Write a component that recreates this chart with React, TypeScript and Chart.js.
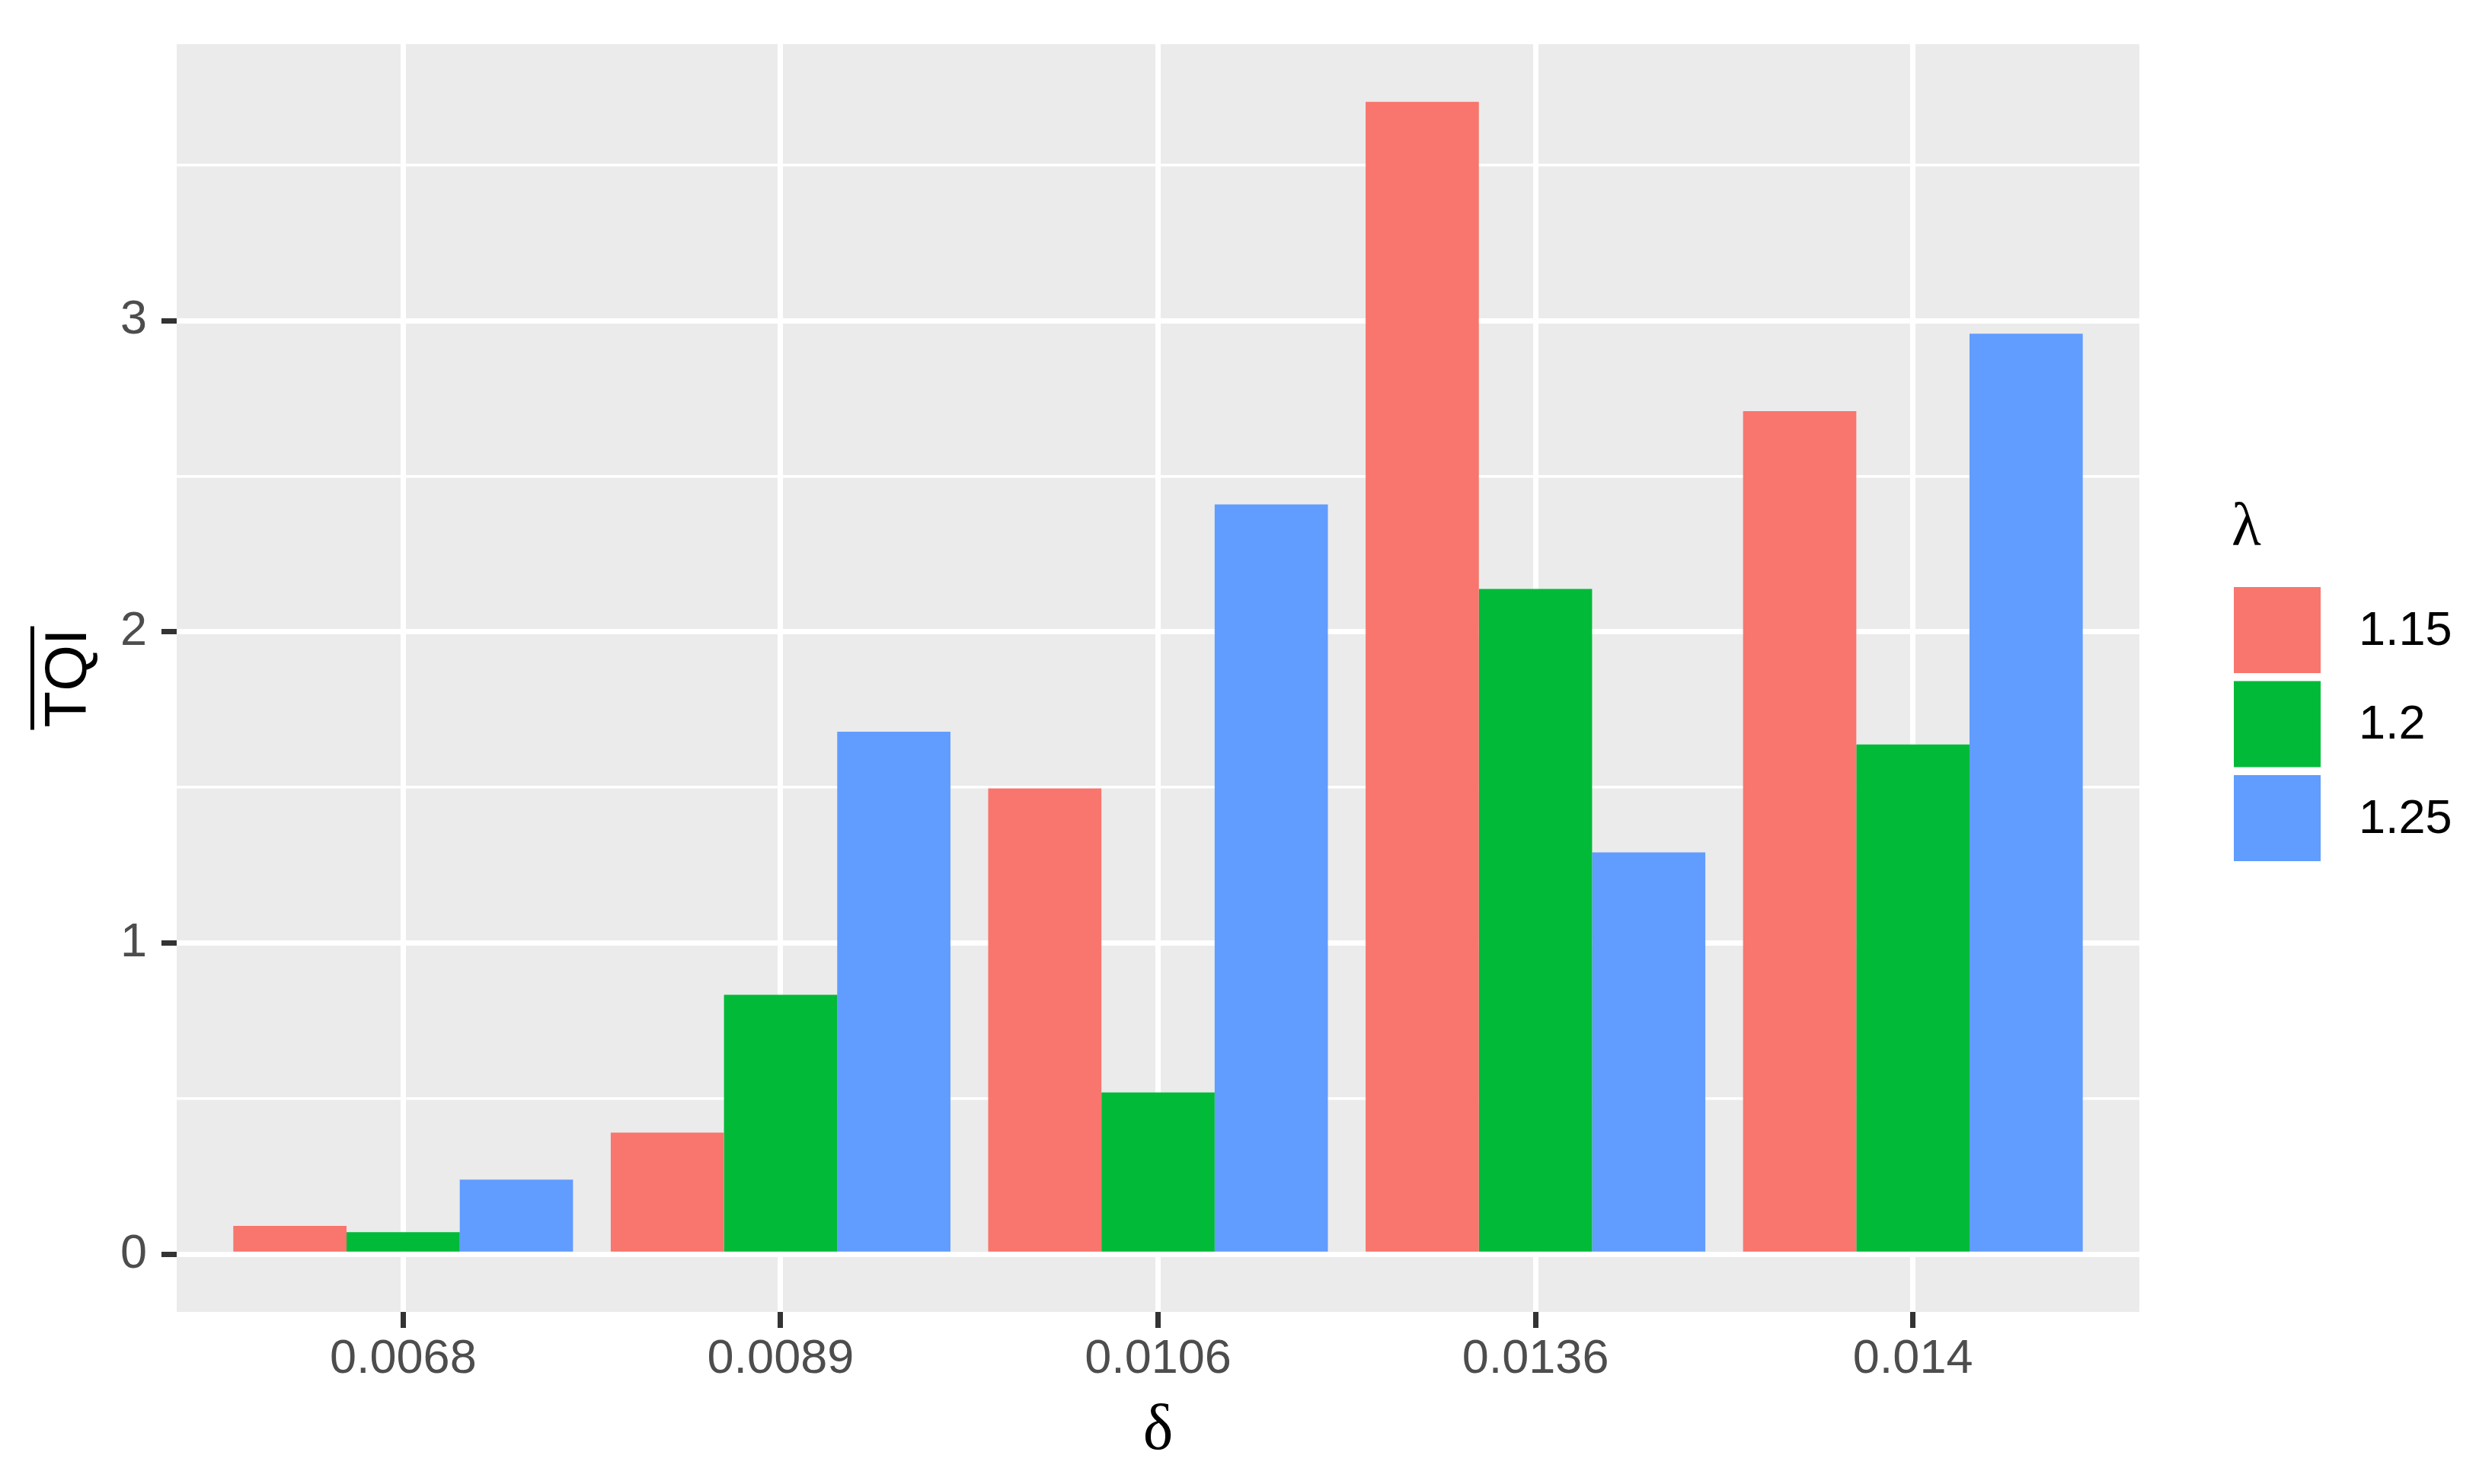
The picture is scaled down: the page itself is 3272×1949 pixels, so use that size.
import React, { useEffect, useRef } from 'react';
import { Chart, registerables } from 'chart.js';

Chart.register(...registerables);

// ---- Data ----
const categories = ['0.0068', '0.0089', '0.0106', '0.0136', '0.014'];
const seriesLabels = ['1.15', '1.2', '1.25'];
const values115 = [0.091, 0.391, 1.497, 3.703, 2.709];
const values120 = [0.071, 0.834, 0.52, 2.138, 1.638];
const values125 = [0.24, 1.679, 2.409, 1.291, 2.958];
const seriesColors = ['#F8766D', '#00BA38', '#619CFF'];
const yMajorTicks = [0, 1, 2, 3];
const yMinorTicks = [0.5, 1.5, 2.5, 3.5];
const xTitle = 'δ';
const yTitle = 'TQI';
const legendTitle = 'λ';

const W = 3272;
const H = 1949;
const SANS = '"Liberation Sans", Arial, Helvetica, sans-serif';
const SERIF = '"Liberation Serif", "DejaVu Serif", serif';

export default function App() {
  const ref = useRef<HTMLCanvasElement | null>(null);

  useEffect(() => {
    const canvas = ref.current;
    if (!canvas) return;
    const allSeries = [values115, values120, values125];
    const maxVal = Math.max(...allSeries.flat());
    const yMin = -0.05 * maxVal;
    const yMax = maxVal * 1.05;

    const isMajor = (v: number) => yMajorTicks.includes(v);

    const decorPlugin = {
      id: 'ggdecor',
      beforeDraw(chart: any) {
        const { ctx, chartArea } = chart;
        ctx.save();
        ctx.fillStyle = '#FFFFFF';
        ctx.fillRect(0, 0, chart.width, chart.height);
        ctx.fillStyle = '#EBEBEB';
        ctx.fillRect(chartArea.left, chartArea.top, chartArea.right - chartArea.left, chartArea.bottom - chartArea.top);
        ctx.restore();
      },
      afterDraw(chart: any) {
        const { ctx, chartArea } = chart;
        const cx = (chartArea.left + chartArea.right) / 2;
        const cy = (chartArea.top + chartArea.bottom) / 2;
        ctx.save();
        // x title
        ctx.fillStyle = '#000000';
        ctx.font = `84px ${SERIF}`;
        ctx.textAlign = 'center';
        ctx.textBaseline = 'alphabetic';
        ctx.fillText(xTitle, cx, chartArea.bottom + 180);

        // y title with overline
        ctx.save();
        ctx.translate(113, cy);
        ctx.rotate(-Math.PI / 2);
        ctx.font = `78px ${SANS}`;
        ctx.textAlign = 'center';
        ctx.textBaseline = 'alphabetic';
        ctx.fillText(yTitle, 0, 0);
        const tw = ctx.measureText(yTitle).width;
        ctx.fillRect(-tw / 2 - 3, -73, tw + 6, 5);
        ctx.restore();

        // legend
        const lx = chartArea.right + 124;
        ctx.font = `80px ${SERIF}`;
        ctx.textAlign = 'left';
        ctx.textBaseline = 'alphabetic';
        ctx.fillText(legendTitle, lx - 3, 716);
        const keyTop = 771;
        const pitch = 123.5;
        const keyW = 114;
        const keyH = 113;
        seriesLabels.forEach((lab, i) => {
          const top = keyTop + i * pitch;
          ctx.fillStyle = seriesColors[i];
          ctx.fillRect(lx, top, keyW, keyH);
          ctx.fillStyle = '#000000';
          ctx.font = `63px ${SANS}`;
          ctx.textBaseline = 'middle';
          ctx.fillText(lab, lx + 164, top + keyH / 2 + 2);
        });
        ctx.restore();
      },
    };

    const chart = new Chart(canvas, {
      type: 'bar',
      data: {
        datasets: allSeries.map((vals, s) => ({
          label: seriesLabels[s],
          data: vals.map((v, i) => ({ x: i, y: v })),
          backgroundColor: seriesColors[s],
          borderWidth: 0,
          categoryPercentage: 0.9,
          barPercentage: 1.0,
        })),
      },
      options: {
        responsive: false,
        animation: false,
        devicePixelRatio: 1,
        layout: { padding: { top: 58, right: W - 2809, bottom: 0, left: 0 } },
        plugins: {
          legend: { display: false },
          tooltip: { enabled: false },
        },
        scales: {
          x: {
            type: 'linear',
            min: -0.6,
            max: categories.length - 1 + 0.6,
            offset: false,
            afterBuildTicks: (scale: any) => {
              scale.ticks = categories.map((_, i) => ({ value: i }));
            },
            afterFit: (scale: any) => {
              scale.height = H - 1723;
            },
            grid: {
              offset: false,
              color: '#FFFFFF',
              lineWidth: 7,
              drawTicks: true,
              tickLength: 21,
              tickWidth: 7,
              tickColor: '#333333',
            },
            border: { display: false },
            ticks: {
              autoSkip: false,
              maxRotation: 0,
              minRotation: 0,
              padding: 4,
              color: '#4D4D4D',
              font: { family: SANS, size: 63 },
              callback: (v: any) => categories[Number(v)] ?? '',
            },
          },
          y: {
            type: 'linear',
            min: yMin,
            max: yMax,
            afterBuildTicks: (scale: any) => {
              scale.ticks = [...yMajorTicks, ...yMinorTicks].sort((a, b) => a - b).map((v) => ({ value: v }));
            },
            afterFit: (scale: any) => {
              scale.width = 232;
            },
            grid: {
              color: '#FFFFFF',
              lineWidth: (c: any) => (isMajor(c.tick?.value) ? 7 : 3.5),
              drawTicks: true,
              tickLength: 20,
              tickWidth: 7,
              tickColor: (c: any) => (isMajor(c.tick?.value) ? '#333333' : 'rgba(0,0,0,0)'),
            },
            border: { display: false },
            ticks: {
              padding: 19,
              color: '#4D4D4D',
              font: { family: SANS, size: 63 },
              callback: (v: any) => (isMajor(Number(v)) ? String(v) : ''),
            },
          },
        },
      },
      plugins: [decorPlugin],
    } as any);

    return () => chart.destroy();
  }, []);

  return (
    <div style={{ position: 'fixed', left: 0, top: 0, width: W, height: H, background: '#fff' }}>
      <canvas ref={ref} width={W} height={H} style={{ width: W, height: H, display: 'block' }} />
    </div>
  );
}
